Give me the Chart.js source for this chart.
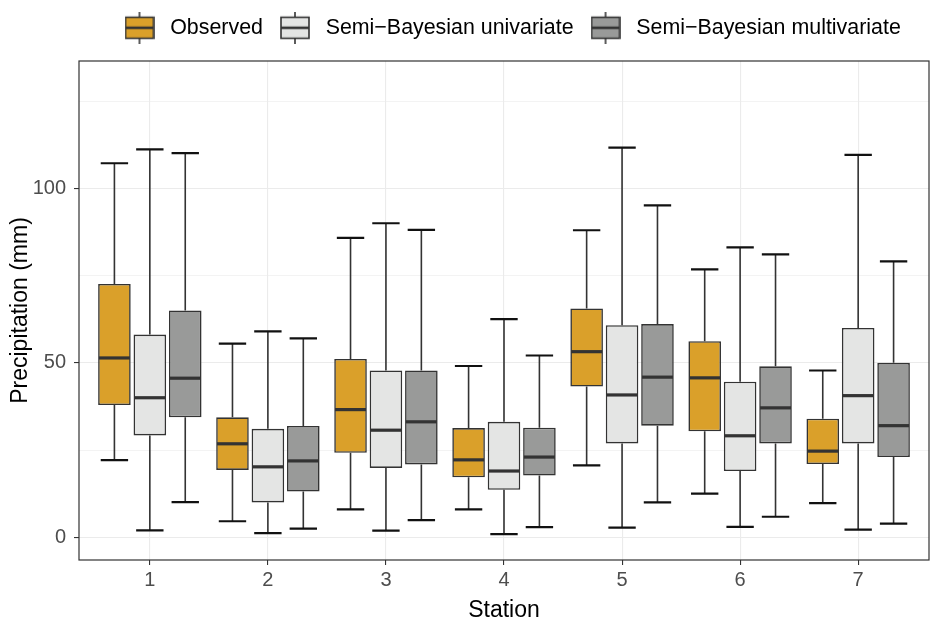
<!DOCTYPE html>
<html>
<head>
<meta charset="utf-8">
<script src="https://cdn.jsdelivr.net/npm/chart.js@4.4.1/dist/chart.umd.min.js"></script>
<style>
  html, body { margin: 0; padding: 0; background: #fff; }
  #wrap { width: 930px; height: 622px; position: relative; }
</style>
</head>
<body>
<div id="wrap"><canvas id="chart"></canvas></div>
<script>
// stations on the x axis
const stations = [1, 2, 3, 4, 5, 6, 7];
const seriesNames = ['Observed', 'Semi\u2212Bayesian univariate', 'Semi\u2212Bayesian multivariate'];
const seriesColors = ['#DAA02A', '#E4E5E4', '#999A99'];

// boxplot stats (mm)
const obsLower  = [22.1, 4.6, 8.0, 8.0, 20.6, 12.5, 9.8];
const obsQ1     = [37.9, 19.3, 24.2, 17.2, 43.2, 30.4, 21.0];
const obsMedian = [51.4, 26.8, 36.6, 22.2, 53.2, 45.7, 24.7];
const obsQ3     = [72.6, 34.4, 51.1, 31.3, 65.6, 56.2, 34.0];
const obsUpper  = [107.2, 55.5, 85.8, 49.1, 88.0, 76.8, 47.8];

const uniLower  = [2.0, 1.2, 1.9, 0.9, 2.8, 3.0, 2.2];
const uniQ1     = [29.2, 10.0, 19.9, 13.6, 26.9, 19.0, 26.9];
const uniMedian = [40.0, 20.2, 30.7, 19.0, 40.8, 29.1, 40.6];
const uniQ3     = [58.1, 31.1, 47.8, 33.1, 60.8, 44.6, 60.0];
const uniUpper  = [111.2, 59.0, 90.0, 62.5, 111.7, 83.1, 109.6];

const multiLower  = [10.1, 2.5, 4.9, 2.9, 10.0, 5.9, 3.9];
const multiQ1     = [34.4, 13.1, 20.9, 17.7, 32.0, 26.9, 23.0];
const multiMedian = [45.6, 21.9, 33.1, 23.0, 45.9, 37.1, 32.0];
const multiQ3     = [65.0, 31.9, 47.8, 31.4, 61.1, 49.0, 50.0];
const multiUpper  = [110.1, 57.0, 88.1, 52.1, 95.1, 81.1, 79.1];

const yTicks = [0, 25, 50, 75, 100, 125];

const stats = [
  { lower: obsLower, q1: obsQ1, median: obsMedian, q3: obsQ3, upper: obsUpper },
  { lower: uniLower, q1: uniQ1, median: uniMedian, q3: uniQ3, upper: uniUpper },
  { lower: multiLower, q1: multiQ1, median: multiMedian, q3: multiQ3, upper: multiUpper },
];

const INK = '#333333';
const GRID = '#EBEBEB';
Chart.defaults.font.family = "'Liberation Sans', Arial, sans-serif";

// little boxplot glyph for the legend keys
const makeKey = (fill) => {
  const c = document.createElement('canvas');
  c.width = 30;
  c.height = 32;
  const g = c.getContext('2d');
  g.strokeStyle = INK;
  g.lineWidth = 1.6;
  g.beginPath();
  g.moveTo(15, 0);
  g.lineTo(15, 32);
  g.stroke();
  g.fillStyle = fill;
  g.fillRect(1, 5.5, 28, 21);
  g.strokeRect(1, 5.5, 28, 21);
  g.lineWidth = 2.6;
  g.beginPath();
  g.moveTo(1, 16);
  g.lineTo(29, 16);
  g.stroke();
  return c;
};
const keys = seriesColors.map(makeKey);

const datasets = stats.map((s, i) => ({
  label: seriesNames[i],
  data: stations.map((st, j) => ({ x: st, y: [s.q1[j], s.q3[j]] })),
  backgroundColor: seriesColors[i],
  borderColor: INK,
  borderWidth: 1.6,
  borderSkipped: false,
  categoryPercentage: 0.9,
  barPercentage: 0.92,
}));

// whiskers, caps and medians drawn on top of the floating bars
const boxWhiskers = {
  id: 'boxWhiskers',
  afterDatasetsDraw(chart) {
    const ctx = chart.ctx;
    const y = chart.scales.y;
    ctx.save();
    chart.data.datasets.forEach((ds, i) => {
      const s = stats[i];
      chart.getDatasetMeta(i).data.forEach((bar, j) => {
        const x = bar.x;
        const w = bar.width;
        const yLo = y.getPixelForValue(s.lower[j]);
        const yQ1 = y.getPixelForValue(s.q1[j]);
        const yQ3 = y.getPixelForValue(s.q3[j]);
        const yHi = y.getPixelForValue(s.upper[j]);
        const yMed = y.getPixelForValue(s.median[j]);

        ctx.strokeStyle = INK;
        ctx.lineWidth = 1.6;
        ctx.beginPath();
        ctx.moveTo(x, yQ3);
        ctx.lineTo(x, yHi);
        ctx.moveTo(x, yQ1);
        ctx.lineTo(x, yLo);
        ctx.stroke();

        const cap = w * 0.42;
        ctx.strokeStyle = '#111111';
        ctx.lineWidth = 2.2;
        ctx.beginPath();
        ctx.moveTo(x - cap, yHi);
        ctx.lineTo(x + cap, yHi);
        ctx.moveTo(x - cap, yLo);
        ctx.lineTo(x + cap, yLo);
        ctx.stroke();

        ctx.strokeStyle = INK;
        ctx.lineWidth = 3.2;
        ctx.beginPath();
        ctx.moveTo(x - w / 2 + 0.8, yMed);
        ctx.lineTo(x + w / 2 - 0.8, yMed);
        ctx.stroke();
      });
    });
    // panel border
    const a = chart.chartArea;
    ctx.strokeStyle = INK;
    ctx.lineWidth = 1.2;
    ctx.strokeRect(a.left, a.top, a.right - a.left, a.bottom - a.top);
    ctx.restore();
  },
};

// nudge the legend to where ggplot puts it
const legendNudge = {
  id: 'legendNudge',
  afterLayout(chart) {
    const lg = chart.legend;
    if (!lg || !lg.lineWidths) return;
    const pad = lg.options.labels.padding;
    const start = (lg.left + pad + lg.right - lg.lineWidths[0]) / 2;
    const dx = 119.5 - start;
    lg.left += dx;
    lg.right += dx;
    lg.top -= 12.5;
    lg.bottom -= 12.5;
  },
};

new Chart(document.getElementById('chart'), {
  type: 'bar',
  data: { datasets },
  plugins: [boxWhiskers, legendNudge],
  options: {
    responsive: true,
    maintainAspectRatio: false,
    animation: false,
    layout: { padding: { top: 17.6, right: 1, left: 0, bottom: 0 } },
    plugins: {
      tooltip: { enabled: false },
      legend: {
        position: 'top',
        labels: {
          usePointStyle: true,
          pointStyleWidth: 40,
          padding: 12,
          color: '#000000',
          font: { size: 21.4 },
          generateLabels: (chart) => chart.data.datasets.map((ds, i) => ({
            text: ds.label,
            pointStyle: keys[i],
            datasetIndex: i,
            hidden: false,
            lineWidth: 0,
            fontColor: '#000000',
          })),
        },
      },
    },
    scales: {
      x: {
        type: 'linear',
        min: 0.4,
        max: 7.6,
        offset: false,
        afterBuildTicks: (s) => { s.ticks = stations.map((v) => ({ value: v })); },
        afterFit: (s) => { s.height = 62; },
        border: { display: false },
        grid: {
          offset: false,
          color: GRID,
          lineWidth: 1.1,
          tickColor: INK,
          tickWidth: 1.1,
          tickLength: 5,
        },
        ticks: {
          color: '#4D4D4D',
          font: { size: 20 },
          padding: 3,
          callback: (v) => String(v),
        },
        title: {
          display: true,
          text: 'Station',
          color: '#000000',
          font: { size: 23, lineHeight: 1.0 },
          padding: { top: 0, bottom: 0 },
        },
      },
      y: {
        min: -6.5,
        max: 136.5,
        afterBuildTicks: (s) => { s.ticks = yTicks.map((v) => ({ value: v })); },
        afterFit: (s) => { s.width = 79; },
        border: { display: false },
        grid: {
          color: GRID,
          lineWidth: (c) => (c.tick && c.tick.value % 50 === 0 ? 1.1 : 0.6),
          tickColor: (c) => (c.tick && c.tick.value % 50 === 0 ? INK : 'rgba(0,0,0,0)'),
          tickWidth: 1.1,
          tickLength: 5,
        },
        ticks: {
          color: '#4D4D4D',
          font: { size: 20 },
          padding: 8,
          callback: (v) => (v % 50 === 0 ? String(v) : ''),
        },
        title: {
          display: true,
          text: 'Precipitation (mm)',
          color: '#000000',
          font: { size: 23 },
          padding: { top: 7, bottom: 0 },
        },
      },
    },
  },
});
</script>
</body>
</html>
